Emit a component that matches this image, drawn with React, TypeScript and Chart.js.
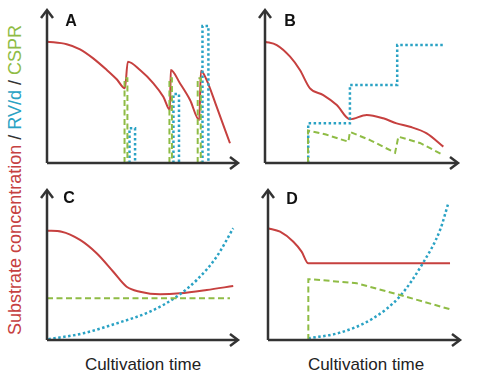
import React, { useEffect, useRef } from "react";
import { Chart, registerables } from "chart.js";

Chart.register(...registerables);

type P = { x: number; y: number | null };

// Panel A
const aSubstrate: P[] = [
  { x: 0, y: 79.3 }, { x: 10.3, y: 77.6 }, { x: 17.3, y: 74.3 }, { x: 24.2, y: 68.4 },
  { x: 31.3, y: 60.8 }, { x: 36.5, y: 54.7 }, { x: 40.8, y: 48.8 }, { x: 42.3, y: 66.2 },
  { x: 48.7, y: 60.8 }, { x: 55.7, y: 52.1 }, { x: 60.9, y: 43.3 }, { x: 64.4, y: 34.6 },
  { x: 64.8, y: 60.8 }, { x: 69.6, y: 52.1 }, { x: 74.9, y: 41.2 }, { x: 79.7, y: 28.1 },
  { x: 80.6, y: 60.3 }, { x: 83.6, y: 54.2 }, { x: 88.8, y: 36.8 }, { x: 95.8, y: 12.9 },
];
const aCSPR: P[] = [
  { x: 40.6, y: 0 }, { x: 40.6, y: 55.4 }, { x: 42.1, y: 55.4 }, { x: 42.1, y: 0 }, { x: 42.2, y: null },
  { x: 64.1, y: 0 }, { x: 64.1, y: 55.4 }, { x: 65.4, y: 55.4 }, { x: 65.4, y: 0 }, { x: 65.5, y: null },
  { x: 78.9, y: 0 }, { x: 78.9, y: 55.4 }, { x: 80.5, y: 55.4 }, { x: 80.5, y: 0 },
];
const aRVd: P[] = [
  { x: 43.2, y: 0 }, { x: 43.2, y: 22.7 }, { x: 46.1, y: 22.7 }, { x: 46.1, y: 0 }, { x: 46.2, y: null },
  { x: 66.2, y: 0 }, { x: 66.2, y: 45.1 }, { x: 69.1, y: 45.1 }, { x: 69.1, y: 0 }, { x: 69.2, y: null },
  { x: 81.4, y: 0 }, { x: 81.4, y: 89.5 }, { x: 84.5, y: 89.5 }, { x: 84.5, y: 0 },
];

// Panel B
const bSubstrate: P[] = [
  { x: 0, y: 79.3 }, { x: 6.1, y: 77.1 }, { x: 13, y: 69.5 }, { x: 18.1, y: 60.8 },
  { x: 23.3, y: 48.8 }, { x: 30.2, y: 44.4 }, { x: 37.2, y: 37.9 }, { x: 44, y: 28.6 },
  { x: 52.7, y: 31.4 }, { x: 61.3, y: 29.2 }, { x: 68.2, y: 25.9 }, { x: 75.1, y: 23.7 },
  { x: 83.8, y: 19.4 }, { x: 92.4, y: 10.7 },
];
const bRVd: P[] = [
  { x: 22.4, y: 0 }, { x: 22.4, y: 25.9 }, { x: 44, y: 25.9 }, { x: 44, y: 51 },
  { x: 68.5, y: 51 }, { x: 68.5, y: 77.1 }, { x: 92.4, y: 77.1 },
];
const bCSPR: P[] = [
  { x: 22.3, y: 0 }, { x: 22.3, y: 21.2 }, { x: 31.6, y: 18.6 }, { x: 43.2, y: 13.9 },
  { x: 44, y: 20.3 }, { x: 54.4, y: 15 }, { x: 67.4, y: 6.7 }, { x: 69.1, y: 17.2 },
  { x: 80.3, y: 13.1 }, { x: 92.4, y: 5.2 },
];

// Panel C
const cSubstrate: P[] = [
  { x: 0, y: 72.9 }, { x: 7.7, y: 72.2 }, { x: 17.3, y: 66.7 }, { x: 26, y: 57.8 },
  { x: 34.7, y: 45.5 }, { x: 41.7, y: 35.5 }, { x: 48.7, y: 32.2 }, { x: 59.2, y: 30.5 },
  { x: 69.6, y: 31.1 }, { x: 83.6, y: 33.3 }, { x: 97.5, y: 36 },
];
const cCSPR: P[] = [{ x: 0, y: 27.8 }, { x: 95.8, y: 27.8 }];
const cRVd: P[] = [
  { x: 0.7, y: 0.5 }, { x: 19.1, y: 4.5 }, { x: 36.5, y: 11.1 }, { x: 53.9, y: 18.9 },
  { x: 67.9, y: 28.9 }, { x: 78.4, y: 40 }, { x: 88.8, y: 55.5 }, { x: 97.5, y: 74.5 },
];

// Panel D
const dSubstrate: P[] = [
  { x: 0, y: 74.5 }, { x: 6.3, y: 72.2 }, { x: 13.2, y: 65.5 }, { x: 17.5, y: 58.9 },
  { x: 21, y: 51.1 }, { x: 94.8, y: 51.1 },
];
const dCSPR: P[] = [
  { x: 21, y: 0 }, { x: 21, y: 40.5 }, { x: 22.8, y: 40.5 }, { x: 46.2, y: 37.8 },
  { x: 68.8, y: 30 }, { x: 94.8, y: 20.5 },
];
const dRVd: P[] = [
  { x: 21, y: 1.1 }, { x: 37.5, y: 4.9 }, { x: 54.8, y: 14.5 }, { x: 68.8, y: 29.3 },
  { x: 80.6, y: 51.1 }, { x: 89.6, y: 73.3 }, { x: 93.9, y: 91.1 },
];

const panelLabels = ["A", "B", "C", "D"];
const xAxisTitle = "Cultivation time";

const RED = "#c6403f";
const BLUE = "#2aa2c4";
const GREEN = "#8fbc45";
const AXIS = "#333333";

const PAD = 8;

type Panel = {
  label: string;
  left: number; top: number; w: number; h: number;
  substrate: P[]; rvd: P[]; cspr: P[];
  curvedRVd: boolean;
  labelX: number; labelY: number;
};

const panels: Panel[] = [
  { label: panelLabels[0], left: 47, top: 10, w: 191, h: 153, substrate: aSubstrate, rvd: aRVd, cspr: aCSPR, curvedRVd: false, labelX: 71, labelY: 21 },
  { label: panelLabels[1], left: 265, top: 10, w: 193, h: 153, substrate: bSubstrate, rvd: bRVd, cspr: bCSPR, curvedRVd: false, labelX: 290, labelY: 21 },
  { label: panelLabels[2], left: 47, top: 190, w: 191, h: 150, substrate: cSubstrate, rvd: cRVd, cspr: cCSPR, curvedRVd: true, labelX: 69, labelY: 198 },
  { label: panelLabels[3], left: 268, top: 190, w: 192, h: 150, substrate: dSubstrate, rvd: dRVd, cspr: dCSPR, curvedRVd: true, labelX: 292, labelY: 199 },
];

const axesPlugin = {
  id: "arrowAxes",
  afterDatasetsDraw(chart: any) {
    const { ctx, chartArea } = chart;
    const { left, right, top, bottom } = chartArea;
    ctx.save();
    ctx.strokeStyle = AXIS;
    ctx.lineWidth = 2.5;
    ctx.lineCap = "butt";
    ctx.lineJoin = "miter";
    ctx.beginPath();
    ctx.moveTo(left, bottom);
    ctx.lineTo(right - 1, bottom);
    ctx.moveTo(left, bottom);
    ctx.lineTo(left, top + 1);
    ctx.stroke();
    ctx.beginPath();
    ctx.moveTo(right - 8, bottom - 6);
    ctx.lineTo(right, bottom);
    ctx.lineTo(right - 8, bottom + 6);
    ctx.moveTo(left - 6, top + 8);
    ctx.lineTo(left, top);
    ctx.lineTo(left + 6, top + 8);
    ctx.stroke();
    ctx.restore();
  },
};

function PanelChart({ p }: { p: Panel }) {
  const ref = useRef<HTMLCanvasElement | null>(null);
  useEffect(() => {
    if (!ref.current) return;
    const chart = new Chart(ref.current, {
      type: "line",
      data: {
        datasets: [
          {
            label: "CSPR",
            data: p.cspr as any,
            borderColor: GREEN,
            borderWidth: 2,
            borderDash: [6, 3.5],
            pointRadius: 0,
            tension: 0,
            spanGaps: false,
          },
          {
            label: "RV/d",
            data: p.rvd as any,
            borderColor: BLUE,
            borderWidth: 2.5,
            borderDash: [2.5, 2.5],
            pointRadius: 0,
            tension: p.curvedRVd ? 0.4 : 0,
            cubicInterpolationMode: p.curvedRVd ? "monotone" : "default",
            spanGaps: false,
          },
          {
            label: "Substrate concentration",
            data: p.substrate as any,
            borderColor: RED,
            borderWidth: 2,
            pointRadius: 0,
            tension: 0.4,
            cubicInterpolationMode: "monotone",
          },
        ],
      },
      options: {
        responsive: false,
        animation: false,
        devicePixelRatio: 1,
        layout: { padding: PAD },
        plugins: { legend: { display: false }, tooltip: { enabled: false } },
        scales: {
          x: { type: "linear", min: 0, max: 100, display: false },
          y: { type: "linear", min: 0, max: 100, display: false },
        },
        clip: false as any,
      } as any,
      plugins: [axesPlugin],
    });
    return () => chart.destroy();
  }, [p]);
  return (
    <>
      <canvas
        ref={ref}
        width={p.w + PAD * 2}
        height={p.h + PAD * 2}
        style={{ position: "absolute", left: p.left - PAD, top: p.top - PAD, width: p.w + PAD * 2, height: p.h + PAD * 2 }}
      />
      <div
        style={{
          position: "absolute", left: p.labelX - 20, top: p.labelY - 10, width: 40, height: 20,
          textAlign: "center", lineHeight: "20px", fontFamily: "Arial, 'Liberation Sans', sans-serif",
          fontWeight: "bold", fontSize: 16, color: "#111",
        }}
      >
        {p.label}
      </div>
    </>
  );
}

export default function App() {
  return (
    <div style={{ position: "absolute", left: 0, top: 0, width: 486, height: 384, background: "#fff", overflow: "hidden" }}>
      {panels.map((p) => (
        <PanelChart key={p.label} p={p} />
      ))}
      <div
        style={{
          position: "absolute", left: 15 - 170, top: 180 - 11, width: 340, height: 22,
          transform: "rotate(-90deg)", transformOrigin: "50% 50%", textAlign: "center",
          fontFamily: "Arial, 'Liberation Sans', sans-serif", fontSize: 18, lineHeight: "22px", whiteSpace: "nowrap",
        }}
      >
        <span style={{ color: RED }}>Substrate concentration</span>
        <span style={{ color: "#333" }}> / </span>
        <span style={{ color: BLUE }}>RV/d</span>
        <span style={{ color: "#333" }}> / </span>
        <span style={{ color: GREEN }}>CSPR</span>
      </div>
      <div
        style={{
          position: "absolute", left: 143 - 80, top: 365 - 11, width: 160, height: 22, textAlign: "center",
          fontFamily: "Arial, 'Liberation Sans', sans-serif", fontSize: 17, lineHeight: "22px", color: "#222",
        }}
      >
        {xAxisTitle}
      </div>
      <div
        style={{
          position: "absolute", left: 366 - 80, top: 365 - 11, width: 160, height: 22, textAlign: "center",
          fontFamily: "Arial, 'Liberation Sans', sans-serif", fontSize: 17, lineHeight: "22px", color: "#222",
        }}
      >
        {xAxisTitle}
      </div>
    </div>
  );
}
